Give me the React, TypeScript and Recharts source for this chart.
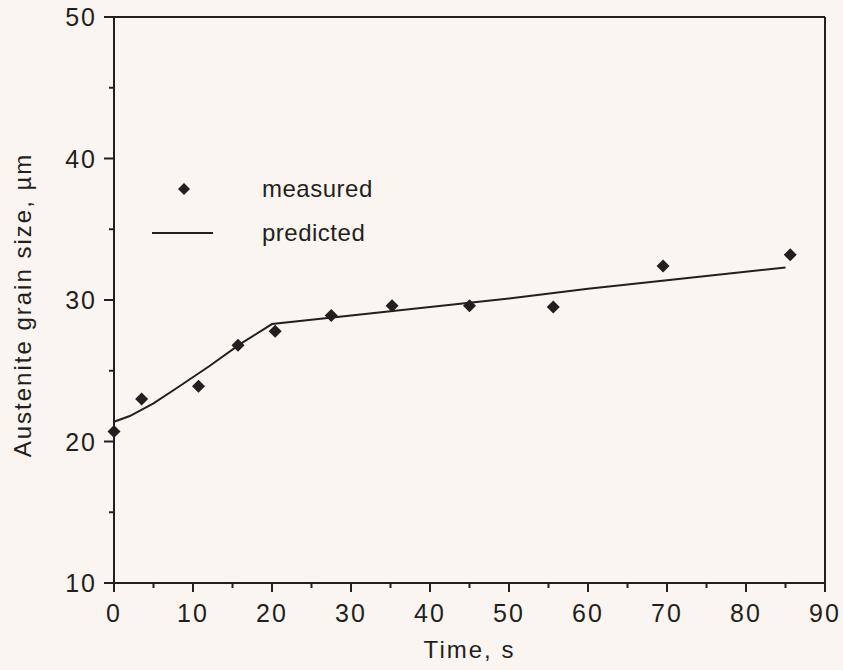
import {
  ScatterChart,
  Scatter,
  XAxis,
  YAxis,
  ReferenceLine,
  Legend,
} from "recharts";

const measuredTime = [0, 3.5, 10.7, 15.7, 20.4, 27.5, 35.2, 45.0, 55.6, 69.5, 85.6];
const measuredSize = [20.7, 23.0, 23.9, 26.8, 27.8, 28.9, 29.6, 29.6, 29.5, 32.4, 33.2];

const predictedTime = [0, 2, 5, 8, 12, 16, 20, 30, 40, 50, 60, 70, 85];
const predictedSize = [21.4, 21.8, 22.7, 23.8, 25.3, 26.9, 28.3, 28.9, 29.5, 30.1, 30.8, 31.4, 32.3];

const xTicks = [0, 5, 10, 15, 20, 25, 30, 35, 40, 45, 50, 55, 60, 65, 70, 75, 80, 85, 90];
const yTicks = [10, 15, 20, 25, 30, 35, 40, 45, 50];

const measured = measuredTime.map((t, i) => ({ x: t, y: measuredSize[i] }));
const predicted = predictedTime.map((t, i) => ({ x: t, y: predictedSize[i] }));

const INK = "#231f20";
const FONT = "'Liberation Sans', Arial, sans-serif";

const Diamond = (props: any) => {
  const { cx, cy } = props;
  if (cx == null || cy == null) return null;
  const r = 6.5;
  return (
    <polygon
      points={`${cx},${cy - r} ${cx + r},${cy} ${cx},${cy + r} ${cx - r},${cy}`}
      fill={INK}
    />
  );
};

const NoDot = () => null;

const XTick = (props: any) => {
  const { x, y, payload } = props;
  const major = payload.value % 10 === 0;
  return (
    <g>
      <line x1={x} y1={y} x2={x} y2={y + (major ? 9 : 5)} stroke={INK} strokeWidth={2} />
      {major && (
        <text
          x={x}
          y={y + 39}
          textAnchor="middle"
          fontSize={25}
          letterSpacing={2}
          fontFamily={FONT}
          fill={INK}
        >
          {payload.value}
        </text>
      )}
    </g>
  );
};

const YTick = (props: any) => {
  const { x, y, payload } = props;
  const major = payload.value % 10 === 0;
  return (
    <g>
      <line x1={x} y1={y} x2={x - (major ? 10 : 5)} y2={y} stroke={INK} strokeWidth={2} />
      {major && (
        <text
          x={x - 17}
          y={y + 9}
          textAnchor="end"
          fontSize={25}
          letterSpacing={2}
          fontFamily={FONT}
          fill={INK}
        >
          {payload.value}
        </text>
      )}
    </g>
  );
};

const LegendBox = () => (
  <svg width={280} height={90} style={{ display: "block" }}>
    <polygon points="44,13 50,19 44,25 38,19" fill={INK} />
    <text x={122} y={27} fontSize={24} letterSpacing={0.5} fontFamily={FONT} fill={INK}>
      measured
    </text>
    <line x1={12} y1={63} x2={73} y2={63} stroke={INK} strokeWidth={2} />
    <text x={122} y={71} fontSize={24} letterSpacing={0.5} fontFamily={FONT} fill={INK}>
      predicted
    </text>
  </svg>
);

export default function App() {
  return (
    <div
      style={{
        position: "absolute",
        left: 0,
        top: 0,
        width: 843,
        height: 670,
        background: "#faf5f1",
      }}
    >
      <ScatterChart
        width={843}
        height={670}
        margin={{ top: 17, right: 18, bottom: 37, left: 54 }}
      >
        <XAxis
          type="number"
          dataKey="x"
          domain={[0, 90]}
          ticks={xTicks}
          interval={0}
          tickSize={0}
          tickMargin={0}
          tick={<XTick />}
          height={50}
          axisLine={{ stroke: INK, strokeWidth: 2 }}
          label={{
            value: "Time, s",
            position: "insideBottom",
            offset: -25,
            fontSize: 24,
            letterSpacing: 2,
            fontFamily: FONT,
            fill: INK,
          }}
        />
        <YAxis
          type="number"
          dataKey="y"
          domain={[10, 50]}
          ticks={yTicks}
          interval={0}
          tickSize={0}
          tickMargin={0}
          tick={<YTick />}
          width={60}
          axisLine={{ stroke: INK, strokeWidth: 2 }}
          label={{
            value: "Austenite grain size, µm",
            angle: -90,
            position: "center",
            dx: -62,
            dy: 5,
            fontSize: 24,
            letterSpacing: 2,
            fontFamily: FONT,
            fill: INK,
          }}
        />
        <ReferenceLine y={50} stroke={INK} strokeWidth={2} />
        <ReferenceLine x={90} stroke={INK} strokeWidth={2} />
        <Legend
          layout="horizontal"
          verticalAlign="middle"
          align="center"
          content={<LegendBox />}
          wrapperStyle={{ position: "absolute", left: 140, top: 170, width: 280 }}
        />
        <Scatter
          name="predicted"
          data={predicted}
          line={{ stroke: INK, strokeWidth: 2 }}
          lineType="joint"
          shape={<NoDot />}
          isAnimationActive={false}
        />
        <Scatter
          name="measured"
          data={measured}
          shape={<Diamond />}
          isAnimationActive={false}
        />
      </ScatterChart>
    </div>
  );
}
